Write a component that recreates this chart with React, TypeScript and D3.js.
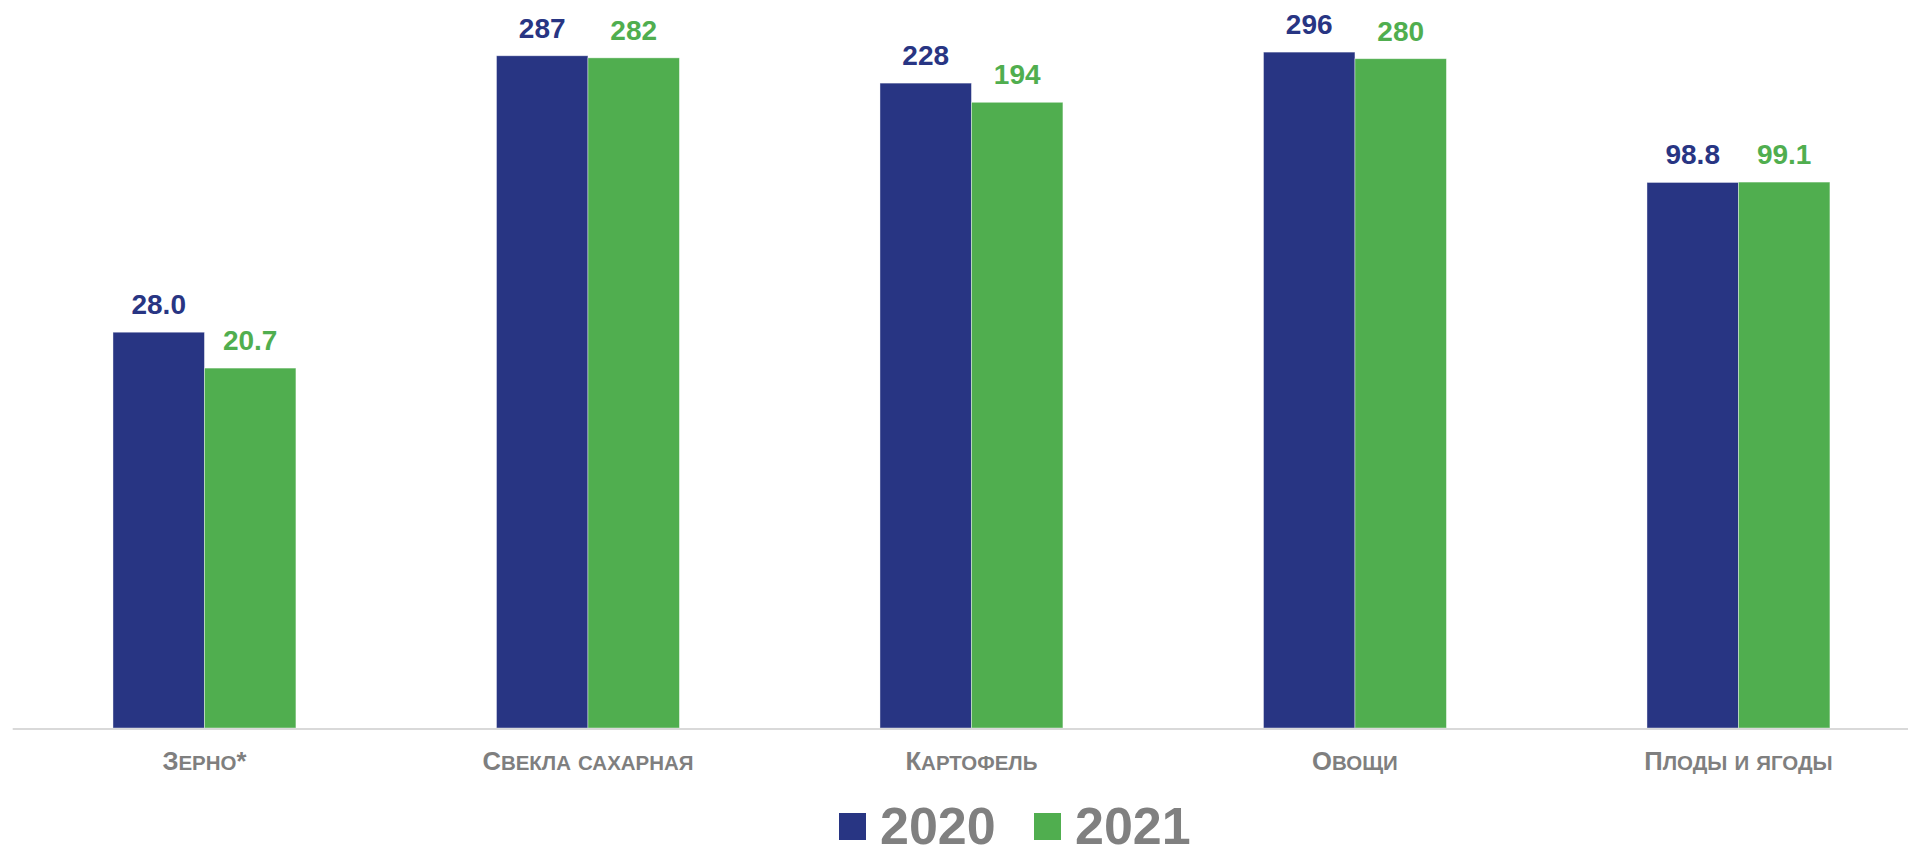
import * as d3 from "d3";

// Категории и значения по годам
const categorias = ["Зерно*", "Свекла сахарная", "Картофель", "Овощи", "Плоды и ягоды"];
const anos = ["2020", "2021"];
const valores2020 = [28.0, 287, 228, 296, 98.8];
const valores2021 = [20.7, 282, 194, 280, 99.1];
const rotulos2020 = ["28.0", "287", "228", "296", "98.8"];
const rotulos2021 = ["20.7", "282", "194", "280", "99.1"];

const CORES: Record<string, string> = {
  "2020": "#283583",
  "2021": "#50ae4f"
};

const WIDTH = 1908;
const HEIGHT = 848;
const FONT = "Arial, 'Liberation Sans', sans-serif";

// Малые прописные: строчные буквы -> заглавные уменьшенного размера
const smallCaps = (texto: string, size: number) => {
  const partes: { t: string; small: boolean }[] = [];
  for (const ch of texto) {
    const small = ch !== ch.toUpperCase();
    const last = partes[partes.length - 1];
    if (last && last.small === small) last.t += ch;
    else partes.push({ t: ch, small });
  }
  return partes.map((p, i) => (
    <tspan key={i} style={{ fontSize: p.small ? size * 0.8 : size }}>
      {p.small ? p.t.toUpperCase() : p.t}
    </tspan>
  ));
};

const App = () => {
  const margin = { left: 12.7, baseline: 728 };
  const step = 383.5;

  const x0 = d3
    .scaleBand<string>()
    .domain(categorias)
    .range([margin.left, margin.left + step * categorias.length])
    .paddingInner(0.523)
    .paddingOuter(0.2615);

  const x1 = d3.scaleBand<string>().domain(anos).range([0, x0.bandwidth()]);

  // Логарифмическая шкала (высоты столбцов в оригинале идут по логарифму)
  const y = d3.scaleLog().domain([1, 459]).range([margin.baseline, 0]);

  const series = [
    { ano: "2020", valores: valores2020, rotulos: rotulos2020 },
    { ano: "2021", valores: valores2021, rotulos: rotulos2021 }
  ];

  return (
    <div style={{ position: "absolute", left: 0, top: 0 }}>
      <svg width={WIDTH} height={HEIGHT} style={{ display: "block", fontFamily: FONT }}>
        <rect width={WIDTH} height={HEIGHT} fill="#ffffff" />

        {series.map((s) =>
          categorias.map((c, i) => {
            const bx = (x0(c) ?? 0) + (x1(s.ano) ?? 0);
            const top = y(s.valores[i]);
            return (
              <g key={s.ano + c}>
                <rect
                  x={bx}
                  y={top}
                  width={x1.bandwidth()}
                  height={margin.baseline - top}
                  fill={CORES[s.ano]}
                  stroke="#ffffff"
                  strokeOpacity={0.5}
                  strokeWidth={0.8}
                />
                <text
                  x={bx + x1.bandwidth() / 2}
                  y={top - 18}
                  textAnchor="middle"
                  fill={CORES[s.ano]}
                  fontWeight="bold"
                  fontSize={28}
                >
                  {s.rotulos[i]}
                </text>
              </g>
            );
          })
        )}

        {/* Ось X */}
        <line
          x1={margin.left}
          x2={WIDTH}
          y1={margin.baseline + 1}
          y2={margin.baseline + 1}
          stroke="#d9d9d9"
          strokeWidth={2}
        />

        {categorias.map((c) => (
          <text
            key={c}
            x={(x0(c) ?? 0) + x0.bandwidth() / 2}
            y={770}
            textAnchor="middle"
            fill="#7f7f7f"
            fontWeight="bold"
          >
            {smallCaps(c, 25.6)}
          </text>
        ))}

        {/* Легенда */}
        <g>
          {anos.map((a, i) => {
            const lx = 839 + i * 195;
            return (
              <g key={a}>
                <rect x={lx} y={813} width={27} height={27} fill={CORES[a]} />
                <text
                  x={lx + 41}
                  y={844}
                  fill="#808080"
                  fontWeight="bold"
                  fontSize={52}
                >
                  {a}
                </text>
              </g>
            );
          })}
        </g>
      </svg>
    </div>
  );
};

export default App;
